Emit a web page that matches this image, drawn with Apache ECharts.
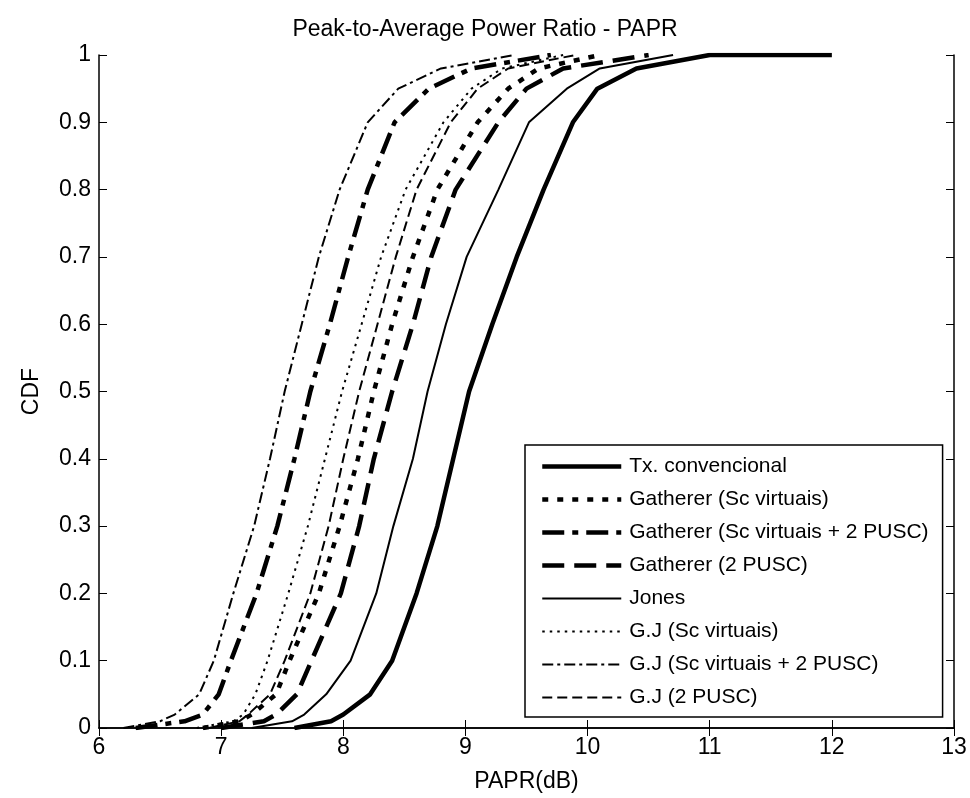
<!DOCTYPE html>
<html>
<head>
<meta charset="utf-8">
<script src="https://cdn.jsdelivr.net/npm/echarts@6/dist/echarts.min.js"></script>
<style>
  html, body { margin: 0; padding: 0; background: #fff; }
  #box { width: 970px; height: 798px; }
</style>
</head>
<body>
<div id="box"></div>
<script>
// CDF levels shared by all curves, and PAPR (dB) read at each level
var cdfLevels  = [0, 0.01, 0.02, 0.05, 0.1, 0.2, 0.3, 0.4, 0.5, 0.6, 0.7, 0.8, 0.9, 0.95, 0.98, 1]

var txConv     = [7.60, 7.90, 8.00, 8.22, 8.40, 8.60, 8.77, 8.90, 9.03, 9.22, 9.42, 9.64, 9.88, 10.08, 10.40, 11.00]
var gathSc     = [6.85, 7.15, 7.25, 7.45, 7.56, 7.80, 7.97, 8.12, 8.25, 8.40, 8.57, 8.77, 9.10, 9.35, 9.60, 10.10]
var gathScPusc = [6.30, 6.70, 6.85, 6.98, 7.08, 7.29, 7.46, 7.60, 7.73, 7.89, 8.04, 8.20, 8.42, 8.70, 9.05, 9.70]
var gathPusc   = [7.00, 7.35, 7.45, 7.62, 7.74, 7.98, 8.13, 8.25, 8.40, 8.57, 8.72, 8.92, 9.27, 9.50, 9.80, 10.50]
var jones      = [7.25, 7.58, 7.68, 7.86, 8.06, 8.27, 8.41, 8.57, 8.69, 8.84, 9.01, 9.27, 9.52, 9.83, 10.10, 10.70]
var gjSc       = [6.80, 7.10, 7.18, 7.28, 7.38, 7.55, 7.71, 7.85, 7.99, 8.15, 8.31, 8.51, 8.82, 9.05, 9.30, 9.80]
var gjScPusc   = [6.20, 6.50, 6.62, 6.82, 6.94, 7.10, 7.27, 7.40, 7.52, 7.66, 7.80, 7.97, 8.20, 8.45, 8.80, 9.40]
var gjPusc     = [6.90, 7.15, 7.22, 7.40, 7.52, 7.73, 7.88, 8.00, 8.13, 8.28, 8.43, 8.60, 8.88, 9.10, 9.35, 9.90]

// outlier tail of the conventional transmitter
var txTailX = [12.0]
var txTailY = [1]

var names = [
    'Tx. convencional',
    'Gatherer (Sc virtuais)',
    'Gatherer (Sc virtuais + 2 PUSC)',
    'Gatherer (2 PUSC)',
    'Jones',
    'G.J (Sc virtuais)',
    'G.J (Sc virtuais + 2 PUSC)',
    'G.J (2 PUSC)'
]

function pairs(xs, ys) {
    return xs.map(function (x, i) { return [x, ys[i]] })
}

var txData = pairs(txConv, cdfLevels).concat(pairs(txTailX, txTailY))

var styles = [
    { width: 4.5, type: 'solid' },
    { width: 4.5, type: [6, 9] },
    { width: 4.5, type: [22, 8, 6, 8] },
    { width: 4.5, type: [22, 10] },
    { width: 2, type: 'solid' },
    { width: 2, type: [2.5, 5] },
    { width: 2, type: [11, 4, 3, 4] },
    { width: 2, type: [10, 5] }
]

var curves = [
    txData,
    pairs(gathSc, cdfLevels),
    pairs(gathScPusc, cdfLevels),
    pairs(gathPusc, cdfLevels),
    pairs(jones, cdfLevels),
    pairs(gjSc, cdfLevels),
    pairs(gjScPusc, cdfLevels),
    pairs(gjPusc, cdfLevels)
]

var chart = echarts.init(document.getElementById('box'))

var font = 'Liberation Sans, Arial, sans-serif'

chart.setOption({
    animation: false,
    backgroundColor: '#fff',
    title: {
        text: 'Peak-to-Average Power Ratio - PAPR',
        left: 'center',
        top: 18,
        padding: [0, 0, 0, 82],
        textStyle: { fontFamily: font, fontSize: 23, fontWeight: 'normal', color: '#000' }
    },
    legend: {
        orient: 'vertical',
        left: 525,
        top: 445,
        padding: [11, 14, 9, 15],
        itemWidth: 79,
        itemHeight: 14,
        itemGap: 12,
        backgroundColor: '#fff',
        borderColor: '#000',
        borderWidth: 1.5,
        borderRadius: 0,
        itemStyle: { opacity: 0 },
        data: names.map(function (n, i) {
            return { name: n, lineStyle: { width: styles[i].width, type: styles[i].type } }
        }),
        textStyle: { fontFamily: font, fontSize: 21, color: '#000', padding: [0, 0, 0, 3] }
    },
    grid: { left: 99, right: 16, top: 55, bottom: 70 },
    xAxis: [{
        type: 'value',
        min: 6,
        max: 13,
        interval: 1,
        name: 'PAPR(dB)',
        nameLocation: 'middle',
        nameGap: 42,
        nameTextStyle: { fontFamily: font, fontSize: 23, color: '#000' },
        axisLine: { lineStyle: { color: '#000', width: 1.5 } },
        axisTick: { inside: true, length: 8, lineStyle: { color: '#000' } },
        axisLabel: { margin: 8, fontFamily: font, fontSize: 23, color: '#000' },
        splitLine: { show: false }
    }, {
        type: 'value',
        position: 'top',
        min: 6,
        max: 13,
        interval: 1,
        axisLine: { lineStyle: { color: '#000', width: 1.5 } },
        axisTick: { inside: true, length: 8, lineStyle: { color: '#000' } },
        axisLabel: { show: false },
        splitLine: { show: false }
    }],
    yAxis: [{
        type: 'value',
        min: 0,
        max: 1,
        interval: 0.1,
        name: 'CDF',
        nameLocation: 'middle',
        nameGap: 56,
        nameTextStyle: { fontFamily: font, fontSize: 23, color: '#000' },
        axisLine: { show: true, lineStyle: { color: '#000', width: 1.5 } },
        axisTick: { show: true, inside: true, length: 8, lineStyle: { color: '#000' } },
        axisLabel: { margin: 8, fontFamily: font, fontSize: 23, color: '#000' },
        splitLine: { show: false }
    }, {
        type: 'value',
        position: 'right',
        min: 0,
        max: 1,
        interval: 0.1,
        axisLine: { show: true, lineStyle: { color: '#000', width: 1.5 } },
        axisTick: { show: true, inside: true, length: 8, lineStyle: { color: '#000' } },
        axisLabel: { show: false },
        splitLine: { show: false }
    }],
    series: curves.map(function (d, i) {
        return {
            name: names[i],
            type: 'line',
            data: d,
            symbol: 'none',
            color: '#000',
            lineStyle: { color: '#000', width: styles[i].width, type: styles[i].type }
        }
    })
})
</script>
</body>
</html>
